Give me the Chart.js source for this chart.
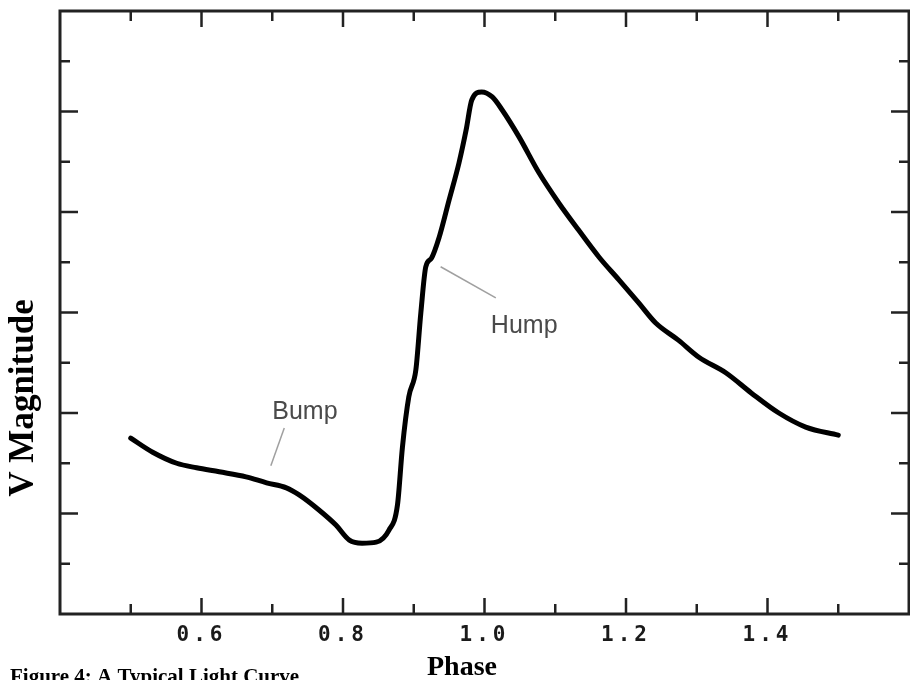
<!DOCTYPE html>
<html>
<head>
<meta charset="utf-8">
<script src="https://cdn.jsdelivr.net/npm/chart.js@4.4.1/dist/chart.umd.min.js"></script>
<style>
  html, body { margin: 0; padding: 0; background: #fff; }
  #wrap { width: 910px; height: 680px; position: relative; }
</style>
</head>
<body>
<div id="wrap"><canvas id="myChart" width="910" height="680"></canvas></div>
<script>
// phase and relative V magnitude
const phase = [0.50, 0.531, 0.565, 0.593, 0.625, 0.663, 0.692, 0.720, 0.738, 0.766,
  0.790, 0.809, 0.827, 0.847, 0.865, 0.877, 0.884, 0.893, 0.903, 0.910,
  0.917, 0.925, 0.936, 0.950, 0.964, 0.974, 0.982, 0.996, 1.011, 1.025,
  1.049, 1.077, 1.105, 1.133, 1.162, 1.190, 1.218, 1.242, 1.274, 1.303,
  1.341, 1.377, 1.416, 1.454, 1.500];
const vMag = [0.850, 0.878, 0.900, 0.909, 0.917, 0.927, 0.939, 0.949, 0.963, 0.993,
  1.023, 1.053, 1.059, 1.057, 1.033, 0.983, 0.868, 0.768, 0.714, 0.601,
  0.509, 0.492, 0.450, 0.376, 0.302, 0.237, 0.177, 0.161, 0.171, 0.197,
  0.251, 0.322, 0.382, 0.436, 0.490, 0.535, 0.581, 0.621, 0.655, 0.689,
  0.720, 0.760, 0.800, 0.828, 0.844];

const xLabels = ["0.6", "0.8", "1.0", "1.2", "1.4"];

// callouts: text anchor and leader line ends, in phase / magnitude
const notes = [
  { text: "Bump", x: 0.700, y: 0.812, from: [0.717, 0.830], to: [0.698, 0.905] },
  { text: "Hump", x: 1.009, y: 0.641, from: [0.938, 0.509], to: [1.016, 0.571] }
];

const points = phase.map((p, i) => ({ x: p, y: vMag[i] }));

const framePlugin = {
  id: "frame",
  beforeDraw(chart) {
    chart.ctx.letterSpacing = "4px";
  },
  afterDraw(chart) {
    const ctx = chart.ctx;
    const a = chart.chartArea;
    const xs = chart.scales.x, ys = chart.scales.y;
    ctx.save();
    ctx.letterSpacing = "0px";

    // frame
    ctx.strokeStyle = "#222";
    ctx.lineWidth = 3;
    ctx.strokeRect(a.left, a.top, a.right - a.left, a.bottom - a.top);

    // inward ticks on all four sides
    ctx.lineWidth = 2.5;
    xs.ticks.forEach(t => {
      const v = Math.round(t.value * 10);
      if (v <= 4 || v >= 16) return;
      const len = v % 2 === 0 ? 16 : 10;
      const px = xs.getPixelForValue(t.value);
      ctx.beginPath();
      ctx.moveTo(px, a.bottom); ctx.lineTo(px, a.bottom - len);
      ctx.moveTo(px, a.top); ctx.lineTo(px, a.top + len);
      ctx.stroke();
    });
    ys.ticks.forEach(t => {
      const v = Math.round(t.value * 10);
      if (v <= 0 || v >= 12) return;
      const len = v % 2 === 0 ? 18 : 10;
      const py = ys.getPixelForValue(t.value);
      ctx.beginPath();
      ctx.moveTo(a.left, py); ctx.lineTo(a.left + len, py);
      ctx.moveTo(a.right, py); ctx.lineTo(a.right - len, py);
      ctx.stroke();
    });

    // callouts
    ctx.font = "25px 'Liberation Sans', Arial, sans-serif";
    ctx.textAlign = "left";
    ctx.textBaseline = "alphabetic";
    notes.forEach(n => {
      ctx.strokeStyle = "#a0a0a0";
      ctx.lineWidth = 1.5;
      ctx.beginPath();
      ctx.moveTo(xs.getPixelForValue(n.from[0]), ys.getPixelForValue(n.from[1]));
      ctx.lineTo(xs.getPixelForValue(n.to[0]), ys.getPixelForValue(n.to[1]));
      ctx.stroke();
      ctx.fillStyle = "#4a4a4a";
      ctx.fillText(n.text, xs.getPixelForValue(n.x), ys.getPixelForValue(n.y));
    });

    // axis titles and caption
    ctx.fillStyle = "#000";
    ctx.font = "bold 28px 'Liberation Serif', 'Times New Roman', serif";
    ctx.textAlign = "center";
    ctx.fillText("Phase", 462, 675);

    ctx.save();
    ctx.translate(33, 398);
    ctx.rotate(-Math.PI / 2);
    ctx.font = "bold 35px 'Liberation Serif', 'Times New Roman', serif";
    ctx.fillText("V Magnitude", 0, 0);
    ctx.restore();

    ctx.textAlign = "left";
    ctx.font = "bold 21px 'Liberation Serif', 'Times New Roman', serif";
    ctx.fillText("Figure 4: A Typical Light Curve", 10, 683);
    ctx.restore();
  }
};

const ctx = document.getElementById("myChart");

const myChart = new Chart(ctx, {
  type: "line",
  data: {
    datasets: [{
      label: "V",
      data: points,
      borderColor: "#000",
      borderWidth: 5,
      pointRadius: 0,
      fill: false,
      cubicInterpolationMode: "monotone",
      borderCapStyle: "round",
      borderJoinStyle: "round"
    }]
  },
  options: {
    responsive: false,
    animation: false,
    layout: { padding: { top: 11, right: 1, left: 0, bottom: 0 } },
    plugins: { legend: { display: false }, tooltip: { enabled: false } },
    scales: {
      x: {
        type: "linear",
        min: 0.4,
        max: 1.6,
        grid: { display: false, drawTicks: false },
        border: { display: false },
        afterFit(scale) {
          scale.height = 66;
          scale.paddingLeft = 0;
          scale.paddingRight = 0;
        },
        afterBuildTicks(scale) {
          const t = [];
          for (let i = 4; i <= 16; i++) t.push({ value: i / 10 });
          scale.ticks = t;
        },
        ticks: {
          autoSkip: false,
          maxRotation: 0,
          padding: 9,
          color: "#1a1a1a",
          font: { family: "'DejaVu Sans Mono', monospace", weight: "bold", size: 21 },
          callback(v) {
            const s = v.toFixed(1);
            return xLabels.includes(s) ? s : "";
          }
        }
      },
      y: {
        type: "linear",
        min: 0,
        max: 1.2,
        reverse: true,
        grid: { display: false, drawTicks: false },
        border: { display: false },
        afterFit(scale) { scale.width = 60; },
        afterBuildTicks(scale) {
          const t = [];
          for (let i = 0; i <= 12; i++) t.push({ value: i / 10 });
          scale.ticks = t;
        },
        ticks: { display: false }
      }
    }
  },
  plugins: [framePlugin]
});
</script>
</body>
</html>
